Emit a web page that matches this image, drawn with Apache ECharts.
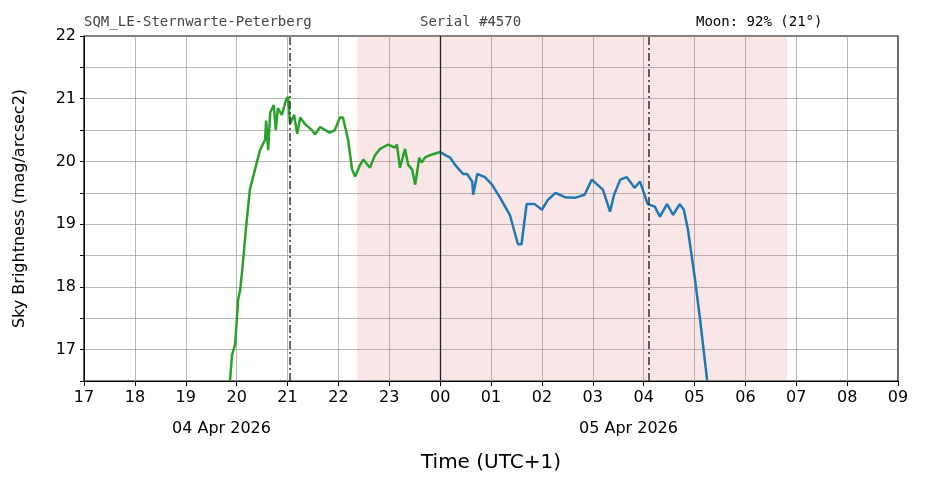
<!DOCTYPE html>
<html>
<head>
<meta charset="utf-8">
<script src="https://cdn.jsdelivr.net/npm/echarts@6/dist/echarts.min.js"></script>
<style>html,body{margin:0;padding:0;background:#fff}#chart{width:926px;height:488px}</style>
</head>
<body>
<div id="chart"></div>
<script>
// hours since 00:00 on 04 Apr 2026 (24 = midnight)
var twilightHours = [19.87,19.91,19.97,20.03,20.07,20.12,20.18,20.26,20.36,20.46,20.56,20.58,20.62,20.66,20.73,20.77,20.81,20.89,20.97,21.01,21.05,21.13,21.19,21.25,21.34,21.48,21.54,21.64,21.83,21.93,22.03,22.09,22.19,22.27,22.33,22.43,22.49,22.62,22.72,22.82,22.98,23.11,23.15,23.21,23.31,23.37,23.45,23.51,23.59,23.64,23.7,23.8,24.0];
var twilightMag = [16.5,16.92,17.08,17.8,17.95,18.35,18.9,19.55,19.87,20.18,20.35,20.65,20.18,20.78,20.9,20.5,20.85,20.74,20.98,21.03,20.6,20.74,20.44,20.7,20.6,20.5,20.43,20.55,20.46,20.5,20.7,20.7,20.35,19.87,19.76,19.95,20.03,19.9,20.1,20.2,20.27,20.22,20.27,19.9,20.2,19.95,19.87,19.63,20.06,19.98,20.06,20.1,20.15];
var nightHours = [24.0,24.1,24.2,24.29,24.45,24.53,24.63,24.65,24.73,24.88,25.02,25.18,25.37,25.53,25.6,25.7,25.86,26.0,26.12,26.27,26.45,26.65,26.84,26.98,27.2,27.34,27.42,27.54,27.67,27.82,27.93,28.08,28.22,28.32,28.46,28.58,28.71,28.79,28.87,29.01,29.11,29.25];
var nightMag = [20.15,20.1,20.06,19.95,19.8,19.8,19.68,19.47,19.8,19.75,19.63,19.42,19.15,18.68,18.68,19.32,19.32,19.23,19.39,19.5,19.43,19.42,19.47,19.71,19.55,19.2,19.47,19.71,19.75,19.58,19.68,19.32,19.28,19.12,19.32,19.15,19.32,19.23,18.92,18.12,17.48,16.5];
var darkPeriod = [22.37, 30.82];
var dashLines = [21.05, 28.1];
var midnight = 24;

function pairs(xs, ys) { return xs.map(function (x, i) { return [x, ys[i]]; }); }

var chart = echarts.init(document.getElementById('chart'));
var dashDot = [8, 3, 2, 3];
chart.setOption({
  animation: false,
  textStyle: { fontFamily: 'DejaVu Sans' },
  grid: { left: 84, right: 28, top: 36, bottom: 107, show: true, borderColor: '#000', borderWidth: 1.2 },
  xAxis: {
    type: 'value', min: 17, max: 33, interval: 1,
    name: 'Time (UTC+1)', nameLocation: 'middle', nameGap: 72,
    nameTextStyle: { fontSize: 20, color: '#000' },
    axisLine: { lineStyle: { color: '#000' } },
    axisTick: { lineStyle: { color: '#000' }, length: 5 },
    axisLabel: { color: '#000', fontSize: 16, margin: 9,
      formatter: function (v) { var h = v % 24; return (h < 10 ? '0' : '') + h; } },
    splitLine: { lineStyle: { color: '#888', width: 0.6 } }
  },
  yAxis: {
    type: 'value', min: 16.5, max: 22, interval: 0.5,
    name: 'Sky Brightness (mag/arcsec2)', nameLocation: 'middle', nameGap: 56,
    nameTextStyle: { fontSize: 16, color: '#000' },
    axisLine: { show: true, lineStyle: { color: '#000' } },
    axisTick: { show: true, lineStyle: { color: '#000' }, length: 4 },
    axisLabel: { color: '#000', fontSize: 16,
      formatter: function (v) { return v % 1 === 0 ? v : ''; } },
    splitLine: { lineStyle: { color: '#888', width: 0.6 } }
  },
  graphic: [
    { type: 'text', left: 84, top: 15, style: { text: 'SQM_LE-Sternwarte-Peterberg', font: '14px "DejaVu Sans Mono"', fill: '#444' } },
    { type: 'text', left: 420, top: 15, style: { text: 'Serial #4570', font: '14px "DejaVu Sans Mono"', fill: '#444' } },
    { type: 'text', left: 696, top: 15, style: { text: 'Moon: 92% (21°)', font: '14px "DejaVu Sans Mono"', fill: '#000' } },
    { type: 'text', left: 172, top: 421, style: { text: '04 Apr 2026', font: '16px "DejaVu Sans"', fill: '#000' } },
    { type: 'text', left: 579, top: 421, style: { text: '05 Apr 2026', font: '16px "DejaVu Sans"', fill: '#000' } }
  ],
  series: [
    {
      type: 'line', data: pairs(twilightHours, twilightMag), showSymbol: false,
      lineStyle: { color: '#2ca02c', width: 2.5 }, z: 3,
      markArea: { silent: true, itemStyle: { color: 'rgba(220,110,110,0.17)' },
        data: [[{ xAxis: darkPeriod[0] }, { xAxis: darkPeriod[1] }]] },
      markLine: { silent: true, symbol: 'none', label: { show: false },
        data: dashLines.map(function (x) { return { xAxis: x, lineStyle: { color: '#333', type: dashDot, width: 1.5 } }; })
          .concat([{ xAxis: midnight, lineStyle: { color: '#222', type: 'solid', width: 1.3 } }]) }
    },
    {
      type: 'line', data: pairs(nightHours, nightMag), showSymbol: false,
      lineStyle: { color: '#1f77b4', width: 2.5 }, z: 3
    }
  ]
});
</script>
</body>
</html>
